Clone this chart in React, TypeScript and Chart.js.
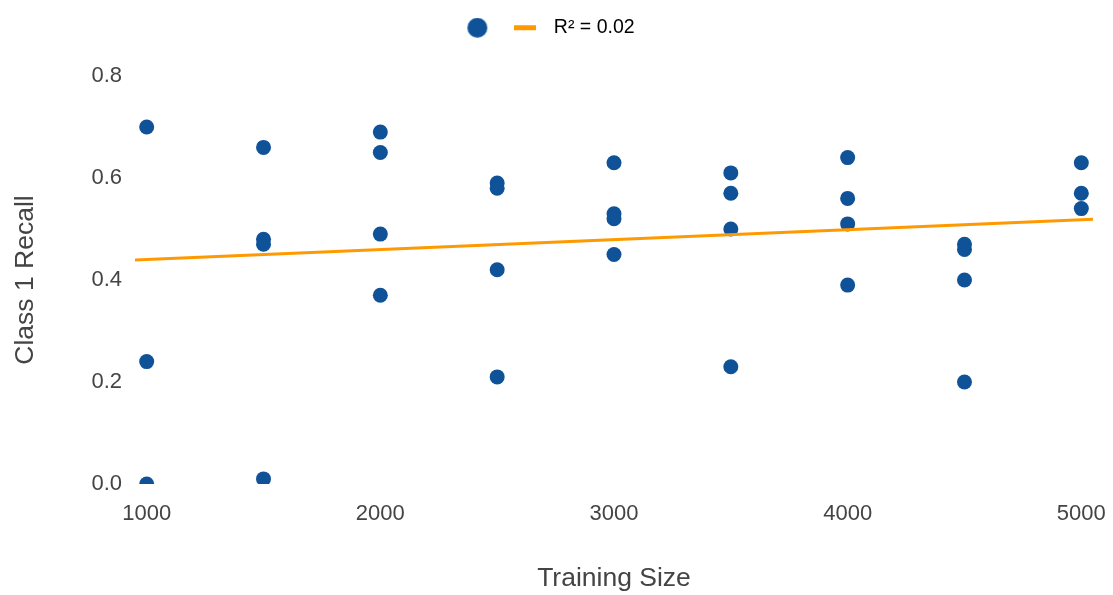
import React, { useEffect, useRef } from "react";
import { Chart, registerables } from "chart.js";

Chart.register(...registerables);

// Training sizes (x) and the Class 1 recall values observed at each size
const trainingSizes = [1000, 1500, 2000, 2500, 3000, 3500, 4000, 4500, 5000];
const recall1000 = [0.70, 0.24, 0.00];
const recall1500 = [0.66, 0.48, 0.47, 0.01];
const recall2000 = [0.69, 0.65, 0.49, 0.37];
const recall2500 = [0.59, 0.58, 0.42, 0.21];
const recall3000 = [0.63, 0.53, 0.52, 0.45];
const recall3500 = [0.61, 0.57, 0.50, 0.23];
const recall4000 = [0.64, 0.56, 0.51, 0.39];
const recall4500 = [0.47, 0.46, 0.40, 0.20];
const recall5000 = [0.63, 0.57, 0.54];
const recallBySize = [
  recall1000, recall1500, recall2000, recall2500, recall3000,
  recall3500, recall4000, recall4500, recall5000,
];

// Linear trendline endpoints
const trendX = [950, 5050];
const trendY = [0.439, 0.519];
const trendLabel = "R\u00b2 = 0.02";

const xTicks = [1000, 2000, 3000, 4000, 5000];
const yTicks = [0, 0.2, 0.4, 0.6, 0.8];

const BLUE = "#0f5298";
const ORANGE = "#ff9900";
const TEXT = "#444444";
const FONT = "'Liberation Sans', Arial, sans-serif";

function makeCircleIcon(color: string, r: number) {
  const c = document.createElement("canvas");
  c.width = r * 2 + 2;
  c.height = r * 2 + 2;
  const g = c.getContext("2d")!;
  g.fillStyle = color;
  g.beginPath();
  g.arc(c.width / 2, c.height / 2, r, 0, Math.PI * 2);
  g.fill();
  return c;
}

function makeLineIcon(color: string, w: number, h: number) {
  const c = document.createElement("canvas");
  c.width = w;
  c.height = h + 2;
  const g = c.getContext("2d")!;
  g.strokeStyle = color;
  g.lineWidth = h;
  g.lineCap = "butt";
  g.beginPath();
  g.moveTo(0, c.height / 2);
  g.lineTo(w, c.height / 2);
  g.stroke();
  return c;
}

export default function App() {
  const ref = useRef<HTMLCanvasElement | null>(null);

  useEffect(() => {
    if (!ref.current) return;
    const points: { x: number; y: number }[] = [];
    trainingSizes.forEach((s, i) => {
      recallBySize[i].forEach((v) => points.push({ x: s, y: v }));
    });
    const trend = trendX.map((x, i) => ({ x, y: trendY[i] }));

    const circleIcon = makeCircleIcon(BLUE, 10);
    const lineIcon = makeLineIcon(ORANGE, 22, 5);

    const legendHeight = {
      id: "legendHeight",
      beforeInit(chart: any) {
        const lg = chart.legend;
        if (!lg) return;
        const orig = lg.fit;
        lg.fit = function () {
          orig.call(this);
          this.height = 58;
        };
      },
    };

    const chart = new Chart(ref.current, {
      type: "scatter",
      data: {
        datasets: [
          {
            label: "",
            data: points,
            backgroundColor: BLUE,
            borderColor: BLUE,
            pointRadius: 7.5,
            pointHoverRadius: 7.5,
            borderWidth: 0,
            clip: { left: 0, top: 0, right: 0, bottom: 0 } as any,
            order: 2,
          },
          {
            type: "line",
            label: trendLabel,
            data: trend,
            borderColor: ORANGE,
            backgroundColor: ORANGE,
            borderWidth: 3,
            pointRadius: 0,
            showLine: true,
            fill: false,
            order: 1,
          } as any,
        ],
      },
      options: {
        animation: false,
        responsive: true,
        maintainAspectRatio: false,
        layout: { padding: { left: 0, right: 20, top: 18, bottom: 0 } },
        plugins: {
          tooltip: { enabled: false },
          legend: {
            display: true,
            position: "top",
            labels: {
              usePointStyle: true,
              pointStyleWidth: 38,
              boxHeight: 14,
              padding: 0,
              color: TEXT,
              font: { family: FONT, size: 19.5 },
              generateLabels: () => [
                {
                  text: "",
                  pointStyle: circleIcon,
                  fillStyle: BLUE,
                  strokeStyle: BLUE,
                  lineWidth: 0,
                  hidden: false,
                  datasetIndex: 0,
                } as any,
                {
                  text: trendLabel,
                  pointStyle: lineIcon,
                  fillStyle: ORANGE,
                  strokeStyle: ORANGE,
                  lineWidth: 0,
                  hidden: false,
                  datasetIndex: 1,
                } as any,
              ],
            },
          },
        },
        scales: {
          x: {
            type: "linear",
            min: 950,
            max: 5050,
            grid: { display: false, drawTicks: false },
            border: { display: false },
            afterBuildTicks: (scale: any) => {
              scale.ticks = xTicks.map((v) => ({ value: v }));
            },
            afterFit: (scale: any) => {
              scale.height = 111;
              scale.paddingLeft = 0;
              scale.paddingRight = 0;
            },
            ticks: {
              padding: 17,
              color: TEXT,
              font: { family: FONT, size: 22 },
              maxRotation: 0,
              autoSkip: false,
              callback: (v: any) => String(v),
            },
            title: {
              display: true,
              text: "Training Size",
              color: TEXT,
              font: { family: FONT, size: 26.5 },
              padding: { top: 0, bottom: 0 },
            },
          },
          y: {
            type: "linear",
            min: 0,
            max: 0.8,
            grid: { display: false, drawTicks: false },
            border: { display: false },
            afterBuildTicks: (scale: any) => {
              scale.ticks = yTicks.map((v) => ({ value: v }));
            },
            afterFit: (scale: any) => {
              scale.width = 135;
              scale.paddingTop = 0;
              scale.paddingBottom = 0;
            },
            ticks: {
              padding: 13,
              color: TEXT,
              font: { family: FONT, size: 22 },
              autoSkip: false,
              callback: (v: any) => Number(v).toFixed(1),
            },
            title: {
              display: true,
              text: "Class 1 Recall",
              color: TEXT,
              font: { family: FONT, size: 26.5 },
              padding: { top: 10, bottom: 0 },
            },
          },
        },
      },
      plugins: [legendHeight],
    });
    return () => chart.destroy();
  }, []);

  return (
    <div style={{ position: "fixed", left: 0, top: 0, width: "100vw", height: "100vh", background: "#fff" }}>
      <canvas ref={ref} />
    </div>
  );
}
